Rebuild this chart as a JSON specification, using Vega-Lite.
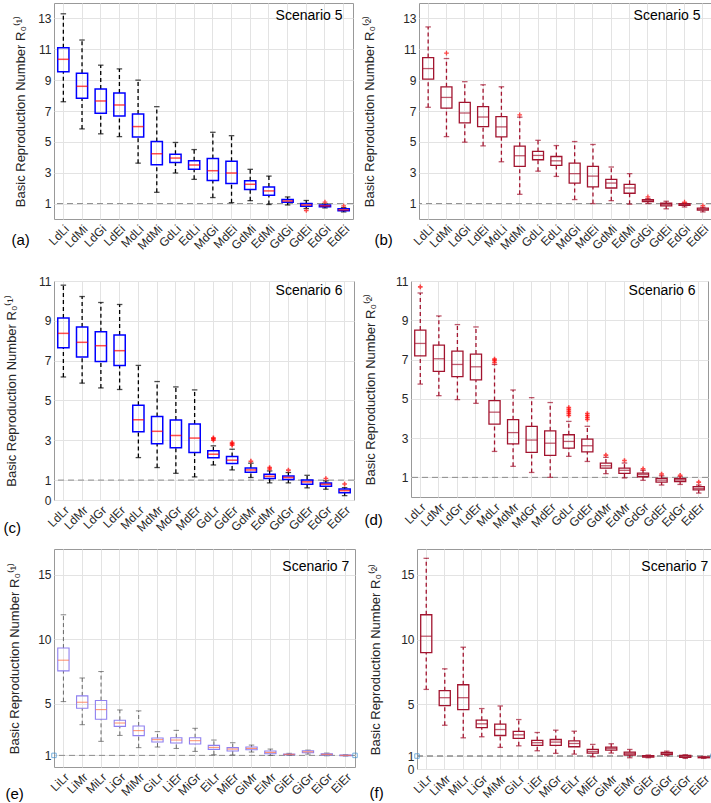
{
"$schema": "https://vega.github.io/schema/vega-lite/v6.json",
"padding": {"left": 2, "top": 2, "right": 2, "bottom": 2},
"config": {
 "font": "Liberation Sans",
 "view": {"stroke": "#999999", "strokeWidth": 1},
 "title": {"fontSize": 14, "fontWeight": "normal", "color": "#000000", "anchor": "end"},
 "axis": {"labelFontSize": 12, "labelColor": "#262626", "titleFontSize": 13, "titleFontWeight": "normal", "titleColor": "#262626", "gridColor": "#e3e3e3", "domain": false, "ticks": false, "tickSize": 0, "grid": true},
 "axisX": {"labelAngle": -45, "labelPadding": 4, "titleFontSize": 15, "titleAlign": "left", "titleBaseline": "middle", "titleColor": "#000000"},
 "axisY": {"labelPadding": 3, "titlePadding": 5, "labelOverlap": false, "tickCount": 30, "format": "d"}
},
"datasets": {
 "a": [
  {"i":1,"lo":7.6,"q1":9.54,"m":10.35,"q3":11.1,"hi":13.3},
  {"i":2,"lo":5.84,"q1":7.82,"m":8.6,"q3":9.45,"hi":11.6},
  {"i":3,"lo":5.52,"q1":6.85,"m":7.65,"q3":8.42,"hi":9.97},
  {"i":4,"lo":5.34,"q1":6.68,"m":7.39,"q3":8.16,"hi":9.73},
  {"i":5,"lo":3.62,"q1":5.32,"m":5.99,"q3":6.8,"hi":9.0},
  {"i":6,"lo":1.73,"q1":3.52,"m":4.23,"q3":5.02,"hi":7.28},
  {"i":7,"lo":2.98,"q1":3.67,"m":3.95,"q3":4.2,"hi":4.96},
  {"i":8,"lo":2.57,"q1":3.22,"m":3.5,"q3":3.78,"hi":4.5},
  {"i":9,"lo":1.39,"q1":2.5,"m":3.13,"q3":3.92,"hi":5.62},
  {"i":10,"lo":1.06,"q1":2.3,"m":2.98,"q3":3.75,"hi":5.4},
  {"i":11,"lo":1.19,"q1":1.92,"m":2.25,"q3":2.48,"hi":3.22},
  {"i":12,"lo":0.94,"q1":1.54,"m":1.82,"q3":2.08,"hi":2.78},
  {"i":13,"lo":0.91,"q1":1.09,"m":1.17,"q3":1.26,"hi":1.43},
  {"i":14,"lo":0.68,"q1":0.83,"m":0.91,"q3":1.0,"hi":1.2},
  {"i":15,"lo":0.72,"q1":0.79,"m":0.85,"q3":0.91,"hi":0.98},
  {"i":16,"lo":0.46,"q1":0.53,"m":0.59,"q3":0.66,"hi":0.74}
 ],
 "ao": [{"i":14,"v":0.55},{"i":15,"v":1.1},{"i":16,"v":0.85}],
 "b": [
  {"i":1,"lo":7.24,"q1":9.06,"m":9.75,"q3":10.46,"hi":12.45},
  {"i":2,"lo":5.34,"q1":7.19,"m":7.88,"q3":8.57,"hi":10.4},
  {"i":3,"lo":4.98,"q1":6.23,"m":6.87,"q3":7.56,"hi":8.9},
  {"i":4,"lo":4.74,"q1":5.99,"m":6.61,"q3":7.28,"hi":8.7},
  {"i":5,"lo":3.71,"q1":5.32,"m":5.97,"q3":6.63,"hi":8.57},
  {"i":6,"lo":1.6,"q1":3.41,"m":4.1,"q3":4.72,"hi":6.6},
  {"i":7,"lo":3.1,"q1":3.84,"m":4.12,"q3":4.38,"hi":5.1},
  {"i":8,"lo":2.76,"q1":3.47,"m":3.77,"q3":4.05,"hi":4.76},
  {"i":9,"lo":1.26,"q1":2.33,"m":2.94,"q3":3.62,"hi":5.02},
  {"i":10,"lo":1.0,"q1":2.08,"m":2.78,"q3":3.41,"hi":4.83},
  {"i":11,"lo":1.19,"q1":2.01,"m":2.33,"q3":2.57,"hi":3.37},
  {"i":12,"lo":0.96,"q1":1.67,"m":2.01,"q3":2.25,"hi":2.94},
  {"i":13,"lo":1.0,"q1":1.13,"m":1.19,"q3":1.26,"hi":1.32},
  {"i":14,"lo":0.66,"q1":0.85,"m":0.94,"q3":1.02,"hi":1.15},
  {"i":15,"lo":0.78,"q1":0.89,"m":0.96,"q3":1.0,"hi":1.04},
  {"i":16,"lo":0.46,"q1":0.57,"m":0.63,"q3":0.7,"hi":0.76}
 ],
 "bo": [{"i":2,"v":10.75},{"i":6,"v":6.75},{"i":13,"v":1.43},{"i":15,"v":1.1},{"i":16,"v":0.87}],
 "c": [
  {"i":1,"lo":6.18,"q1":7.65,"m":8.37,"q3":9.14,"hi":10.79},
  {"i":2,"lo":5.87,"q1":7.18,"m":7.92,"q3":8.69,"hi":10.22},
  {"i":3,"lo":5.63,"q1":6.96,"m":7.75,"q3":8.45,"hi":9.92},
  {"i":4,"lo":5.55,"q1":6.76,"m":7.5,"q3":8.29,"hi":9.82},
  {"i":5,"lo":2.13,"q1":3.43,"m":4.03,"q3":4.76,"hi":6.76},
  {"i":6,"lo":1.63,"q1":2.82,"m":3.45,"q3":4.2,"hi":5.95},
  {"i":7,"lo":1.34,"q1":2.62,"m":3.24,"q3":4.02,"hi":5.68},
  {"i":8,"lo":1.16,"q1":2.39,"m":3.11,"q3":3.82,"hi":5.53},
  {"i":9,"lo":1.76,"q1":2.12,"m":2.3,"q3":2.47,"hi":2.72},
  {"i":10,"lo":1.51,"q1":1.83,"m":2.0,"q3":2.18,"hi":2.55},
  {"i":11,"lo":1.13,"q1":1.39,"m":1.51,"q3":1.61,"hi":1.85},
  {"i":12,"lo":0.86,"q1":1.08,"m":1.19,"q3":1.29,"hi":1.46},
  {"i":13,"lo":0.86,"q1":1.03,"m":1.13,"q3":1.21,"hi":1.38},
  {"i":14,"lo":0.61,"q1":0.79,"m":0.91,"q3":1.01,"hi":1.24},
  {"i":15,"lo":0.54,"q1":0.69,"m":0.79,"q3":0.86,"hi":0.96},
  {"i":16,"lo":0.22,"q1":0.37,"m":0.47,"q3":0.55,"hi":0.62}
 ],
 "co": [{"i":9,"v":3.0},{"i":9,"v":3.07},{"i":9,"v":3.12},{"i":10,"v":2.75},{"i":10,"v":2.82},{"i":10,"v":2.88},{"i":11,"v":1.95},{"i":12,"v":1.56},{"i":12,"v":1.63},{"i":13,"v":1.5},{"i":15,"v":1.08},{"i":16,"v":0.8}],
 "d": [
  {"i":1,"lo":5.75,"q1":7.19,"m":7.82,"q3":8.5,"hi":10.39},
  {"i":2,"lo":5.16,"q1":6.4,"m":7.04,"q3":7.73,"hi":9.22},
  {"i":3,"lo":4.96,"q1":6.13,"m":6.75,"q3":7.43,"hi":8.78},
  {"i":4,"lo":4.77,"q1":5.96,"m":6.63,"q3":7.28,"hi":8.66},
  {"i":5,"lo":2.32,"q1":3.71,"m":4.32,"q3":4.91,"hi":6.75},
  {"i":6,"lo":1.56,"q1":2.71,"m":3.28,"q3":3.94,"hi":5.45},
  {"i":7,"lo":1.25,"q1":2.27,"m":2.9,"q3":3.6,"hi":5.06},
  {"i":8,"lo":1.0,"q1":2.12,"m":2.74,"q3":3.37,"hi":4.81},
  {"i":9,"lo":2.07,"q1":2.49,"m":2.83,"q3":3.17,"hi":3.85},
  {"i":10,"lo":1.81,"q1":2.3,"m":2.61,"q3":2.95,"hi":3.6},
  {"i":11,"lo":1.19,"q1":1.47,"m":1.59,"q3":1.73,"hi":2.02},
  {"i":12,"lo":0.97,"q1":1.2,"m":1.36,"q3":1.47,"hi":1.73},
  {"i":13,"lo":0.85,"q1":1.03,"m":1.14,"q3":1.22,"hi":1.36},
  {"i":14,"lo":0.61,"q1":0.76,"m":0.86,"q3":0.95,"hi":1.08},
  {"i":15,"lo":0.64,"q1":0.78,"m":0.86,"q3":0.93,"hi":1.03},
  {"i":16,"lo":0.2,"q1":0.36,"m":0.44,"q3":0.53,"hi":0.61}
 ],
 "do": [{"i":1,"v":10.7},{"i":5,"v":6.85},{"i":5,"v":6.95},{"i":5,"v":7.02},{"i":9,"v":4.15},{"i":9,"v":4.25},{"i":9,"v":4.35},{"i":9,"v":4.45},{"i":9,"v":4.55},{"i":10,"v":3.95},{"i":10,"v":4.05},{"i":10,"v":4.15},{"i":10,"v":4.25},{"i":11,"v":2.13},{"i":12,"v":1.86},{"i":13,"v":1.44},{"i":14,"v":1.17},{"i":15,"v":1.1},{"i":16,"v":0.76}],
 "e": [
  {"i":1,"lo":5.17,"q1":7.55,"m":8.38,"q3":9.32,"hi":11.9},
  {"i":2,"lo":3.38,"q1":4.65,"m":5.12,"q3":5.61,"hi":7.0},
  {"i":3,"lo":2.09,"q1":3.8,"m":4.55,"q3":5.25,"hi":7.5},
  {"i":4,"lo":2.55,"q1":3.25,"m":3.51,"q3":3.72,"hi":4.52},
  {"i":5,"lo":1.6,"q1":2.53,"m":2.92,"q3":3.28,"hi":4.45},
  {"i":6,"lo":1.65,"q1":2.04,"m":2.22,"q3":2.35,"hi":2.84},
  {"i":7,"lo":1.54,"q1":1.96,"m":2.19,"q3":2.37,"hi":2.94},
  {"i":8,"lo":1.31,"q1":1.88,"m":2.14,"q3":2.37,"hi":3.1},
  {"i":9,"lo":1.05,"q1":1.47,"m":1.62,"q3":1.78,"hi":2.19},
  {"i":10,"lo":1.03,"q1":1.34,"m":1.49,"q3":1.6,"hi":1.98},
  {"i":11,"lo":1.26,"q1":1.44,"m":1.54,"q3":1.65,"hi":1.8},
  {"i":12,"lo":1.0,"q1":1.13,"m":1.23,"q3":1.34,"hi":1.49},
  {"i":13,"lo":1.0,"q1":1.05,"m":1.08,"q3":1.1,"hi":1.16},
  {"i":14,"lo":1.1,"q1":1.21,"m":1.28,"q3":1.36,"hi":1.41},
  {"i":15,"lo":0.97,"q1":1.03,"m":1.08,"q3":1.13,"hi":1.18},
  {"i":16,"lo":0.95,"q1":0.97,"m":1.0,"q3":1.03,"hi":1.05}
 ],
 "f": [
  {"i":1,"lo":6.15,"q1":9.0,"m":10.26,"q3":11.92,"hi":16.28},
  {"i":2,"lo":3.38,"q1":4.9,"m":5.51,"q3":6.05,"hi":7.74},
  {"i":3,"lo":2.41,"q1":4.59,"m":5.51,"q3":6.51,"hi":9.41},
  {"i":4,"lo":2.49,"q1":3.2,"m":3.49,"q3":3.77,"hi":4.67},
  {"i":5,"lo":1.67,"q1":2.59,"m":3.05,"q3":3.46,"hi":4.87},
  {"i":6,"lo":1.79,"q1":2.36,"m":2.64,"q3":2.9,"hi":3.82},
  {"i":7,"lo":1.41,"q1":1.82,"m":2.03,"q3":2.21,"hi":2.82},
  {"i":8,"lo":1.21,"q1":1.82,"m":2.08,"q3":2.28,"hi":3.0},
  {"i":9,"lo":1.15,"q1":1.72,"m":1.97,"q3":2.18,"hi":2.92},
  {"i":10,"lo":0.95,"q1":1.23,"m":1.36,"q3":1.51,"hi":1.9},
  {"i":11,"lo":1.23,"q1":1.46,"m":1.59,"q3":1.69,"hi":1.95},
  {"i":12,"lo":0.87,"q1":1.08,"m":1.21,"q3":1.31,"hi":1.51},
  {"i":13,"lo":0.87,"q1":0.92,"m":0.97,"q3":1.03,"hi":1.08},
  {"i":14,"lo":1.03,"q1":1.13,"m":1.21,"q3":1.28,"hi":1.38},
  {"i":15,"lo":0.82,"q1":0.9,"m":0.97,"q3":1.05,"hi":1.1},
  {"i":16,"lo":0.82,"q1":0.87,"m":0.9,"q3":0.92,"hi":0.97}
 ],
 "one": [{}],
 "edge": [{"e":0},{"e":1}]
},
"spacing": 12,
"vconcat": [
 {"spacing": 21, "vconcat": [
  {"spacing": 8, "hconcat": [
   {"width": 299, "height": 216,
    "title": {"text": "Scenario 5", "offset": -20, "dx": -11},
    "layer": [
     {"data": {"name": "one"}, "mark": {"type": "rule", "strokeDash": [6,4], "color": "#8c8c8c"}, "encoding": {"y": {"datum": 1, "type": "quantitative", "title": "Basic Reproduction Number R₀⁽¹⁾"}}},
     {"data": {"name": "a"}, "mark": {"type": "rule", "strokeDash": [4,3], "color": "#000000", "strokeWidth": 1.3}, "encoding": {"x": {"field": "i", "type": "ordinal", "title": "(a)"}, "y": {"field": "q3", "type": "quantitative", "title": "Basic Reproduction Number R₀⁽¹⁾"}, "y2": {"field": "hi"}}},
     {"data": {"name": "a"}, "mark": {"type": "rule", "strokeDash": [4,3], "color": "#000000", "strokeWidth": 1.3}, "encoding": {"x": {"field": "i", "type": "ordinal", "title": "(a)"}, "y": {"field": "lo", "type": "quantitative", "title": "Basic Reproduction Number R₀⁽¹⁾"}, "y2": {"field": "q1"}}},
     {"data": {"name": "a"}, "mark": {"type": "tick", "color": "#000000", "size": 5.5, "thickness": 1.3}, "encoding": {"x": {"field": "i", "type": "ordinal", "title": "(a)"}, "y": {"field": "hi", "type": "quantitative", "title": "Basic Reproduction Number R₀⁽¹⁾"}}},
     {"data": {"name": "a"}, "mark": {"type": "tick", "color": "#000000", "size": 5.5, "thickness": 1.3}, "encoding": {"x": {"field": "i", "type": "ordinal", "title": "(a)"}, "y": {"field": "lo", "type": "quantitative", "title": "Basic Reproduction Number R₀⁽¹⁾"}}},
     {"data": {"name": "a"}, "mark": {"type": "bar", "width": {"band": 0.6}, "fillOpacity": 0, "stroke": "#0000ff", "strokeWidth": 1.5},
      "encoding": {
       "x": {"field": "i", "type": "ordinal", "title": "(a)", "scale": {"paddingInner": 0, "paddingOuter": 0}, "axis": {"labelExpr": "['LdLi','LdMi','LdGi','LdEi','MdLi','MdMi','GdLi','EdLi','MdGi','MdEi','GdMi','EdMi','GdGi','GdEi','EdGi','EdEi'][datum.value-1]", "titleX": -43, "titleY": 20}},
       "y": {"field": "q1", "type": "quantitative", "title": "Basic Reproduction Number R₀⁽¹⁾", "scale": {"domain": [0,14], "nice": false, "zero": false}, "axis": {"values": [1,3,5,7,9,11,13], "format": "d", "tickCount": 30, "labelOverlap": false, "minExtent": 22, "maxExtent": 22}},
       "y2": {"field": "q3"}}},
     {"data": {"name": "a"}, "mark": {"type": "tick", "color": "#ff0000", "size": 11, "thickness": 1.5}, "encoding": {"x": {"field": "i", "type": "ordinal", "title": "(a)"}, "y": {"field": "m", "type": "quantitative", "title": "Basic Reproduction Number R₀⁽¹⁾"}}},
     {"data": {"name": "ao"}, "mark": {"type": "point", "shape": "M-1,0H1M0,-1V1", "filled": false, "color": "#ff0000", "size": 22, "strokeWidth": 1.3}, "encoding": {"x": {"field": "i", "type": "ordinal", "title": "(a)"}, "y": {"field": "v", "type": "quantitative", "title": "Basic Reproduction Number R₀⁽¹⁾"}}}
    ]},
   {"width": 293, "height": 216,
    "title": {"text": "Scenario 5", "offset": -20, "dx": -12},
    "layer": [
     {"data": {"name": "one"}, "mark": {"type": "rule", "strokeDash": [6,4], "color": "#8c8c8c"}, "encoding": {"y": {"datum": 1, "type": "quantitative", "title": "Basic Reproduction Number R₀⁽²⁾"}}},
     {"data": {"name": "b"}, "mark": {"type": "rule", "strokeDash": [4,3], "color": "#a2142f", "strokeWidth": 1.3}, "encoding": {"x": {"field": "i", "type": "ordinal", "title": "(b)"}, "y": {"field": "q3", "type": "quantitative", "title": "Basic Reproduction Number R₀⁽²⁾"}, "y2": {"field": "hi"}}},
     {"data": {"name": "b"}, "mark": {"type": "rule", "strokeDash": [4,3], "color": "#a2142f", "strokeWidth": 1.3}, "encoding": {"x": {"field": "i", "type": "ordinal", "title": "(b)"}, "y": {"field": "lo", "type": "quantitative", "title": "Basic Reproduction Number R₀⁽²⁾"}, "y2": {"field": "q1"}}},
     {"data": {"name": "b"}, "mark": {"type": "tick", "color": "#a2142f", "size": 5.5, "thickness": 1.3}, "encoding": {"x": {"field": "i", "type": "ordinal", "title": "(b)"}, "y": {"field": "hi", "type": "quantitative", "title": "Basic Reproduction Number R₀⁽²⁾"}}},
     {"data": {"name": "b"}, "mark": {"type": "tick", "color": "#a2142f", "size": 5.5, "thickness": 1.3}, "encoding": {"x": {"field": "i", "type": "ordinal", "title": "(b)"}, "y": {"field": "lo", "type": "quantitative", "title": "Basic Reproduction Number R₀⁽²⁾"}}},
     {"data": {"name": "b"}, "mark": {"type": "bar", "width": {"band": 0.6}, "fillOpacity": 0, "stroke": "#a2142f", "strokeWidth": 1.3},
      "encoding": {
       "x": {"field": "i", "type": "ordinal", "title": "(b)", "scale": {"paddingInner": 0, "paddingOuter": 0}, "axis": {"labelExpr": "['LdLi','LdMi','LdGi','LdEi','MdLi','MdMi','GdLi','EdLi','MdGi','MdEi','GdMi','EdMi','GdGi','GdEi','EdGi','EdEi'][datum.value-1]", "titleX": -45, "titleY": 20}},
       "y": {"field": "q1", "type": "quantitative", "title": "Basic Reproduction Number R₀⁽²⁾", "scale": {"domain": [0,14], "nice": false, "zero": false}, "axis": {"values": [1,3,5,7,9,11,13], "format": "d", "tickCount": 30, "labelOverlap": false, "minExtent": 38, "maxExtent": 38}},
       "y2": {"field": "q3"}}},
     {"data": {"name": "b"}, "mark": {"type": "tick", "color": "#a2142f", "size": 11, "thickness": 1.3}, "encoding": {"x": {"field": "i", "type": "ordinal", "title": "(b)"}, "y": {"field": "m", "type": "quantitative", "title": "Basic Reproduction Number R₀⁽²⁾"}}},
     {"data": {"name": "bo"}, "mark": {"type": "point", "shape": "M-1,0H1M0,-1V1", "filled": false, "color": "#ff0000", "size": 22, "strokeWidth": 1.3}, "encoding": {"x": {"field": "i", "type": "ordinal", "title": "(b)"}, "y": {"field": "v", "type": "quantitative", "title": "Basic Reproduction Number R₀⁽²⁾"}}}
    ]}
  ]},
  {"spacing": 8, "hconcat": [
   {"width": 300, "height": 219,
    "title": {"text": "Scenario 6", "offset": -23, "dx": -12},
    "layer": [
     {"data": {"name": "one"}, "mark": {"type": "rule", "strokeDash": [6,4], "color": "#8c8c8c"}, "encoding": {"y": {"datum": 1, "type": "quantitative", "title": "Basic Reproduction Number R₀⁽¹⁾"}}},
     {"data": {"name": "c"}, "mark": {"type": "rule", "strokeDash": [4,3], "color": "#000000", "strokeWidth": 1.3}, "encoding": {"x": {"field": "i", "type": "ordinal", "title": "(c)"}, "y": {"field": "q3", "type": "quantitative", "title": "Basic Reproduction Number R₀⁽¹⁾"}, "y2": {"field": "hi"}}},
     {"data": {"name": "c"}, "mark": {"type": "rule", "strokeDash": [4,3], "color": "#000000", "strokeWidth": 1.3}, "encoding": {"x": {"field": "i", "type": "ordinal", "title": "(c)"}, "y": {"field": "lo", "type": "quantitative", "title": "Basic Reproduction Number R₀⁽¹⁾"}, "y2": {"field": "q1"}}},
     {"data": {"name": "c"}, "mark": {"type": "tick", "color": "#000000", "size": 5.5, "thickness": 1.3}, "encoding": {"x": {"field": "i", "type": "ordinal", "title": "(c)"}, "y": {"field": "hi", "type": "quantitative", "title": "Basic Reproduction Number R₀⁽¹⁾"}}},
     {"data": {"name": "c"}, "mark": {"type": "tick", "color": "#000000", "size": 5.5, "thickness": 1.3}, "encoding": {"x": {"field": "i", "type": "ordinal", "title": "(c)"}, "y": {"field": "lo", "type": "quantitative", "title": "Basic Reproduction Number R₀⁽¹⁾"}}},
     {"data": {"name": "c"}, "mark": {"type": "bar", "width": {"band": 0.6}, "fillOpacity": 0, "stroke": "#0000ff", "strokeWidth": 1.5},
      "encoding": {
       "x": {"field": "i", "type": "ordinal", "title": "(c)", "scale": {"paddingInner": 0, "paddingOuter": 0}, "axis": {"labelExpr": "['LdLr','LdMr','LdGr','LdEr','MdLr','MdMr','MdGr','MdEr','GdLr','GdEr','GdMr','EdMr','GdGr','GdEr','EdGr','EdEr'][datum.value-1]", "titleX": -51, "titleY": 27}},
       "y": {"field": "q1", "type": "quantitative", "title": "Basic Reproduction Number R₀⁽¹⁾", "scale": {"domain": [0,11], "nice": false, "zero": false}, "axis": {"values": [0,1,3,5,7,9,11], "format": "d", "tickCount": 30, "labelOverlap": false, "minExtent": 31, "maxExtent": 31}},
       "y2": {"field": "q3"}}},
     {"data": {"name": "c"}, "mark": {"type": "tick", "color": "#ff0000", "size": 11, "thickness": 1.5}, "encoding": {"x": {"field": "i", "type": "ordinal", "title": "(c)"}, "y": {"field": "m", "type": "quantitative", "title": "Basic Reproduction Number R₀⁽¹⁾"}}},
     {"data": {"name": "co"}, "mark": {"type": "point", "shape": "M-1,0H1M0,-1V1", "filled": false, "color": "#ff0000", "size": 22, "strokeWidth": 1.6}, "encoding": {"x": {"field": "i", "type": "ordinal", "title": "(c)"}, "y": {"field": "v", "type": "quantitative", "title": "Basic Reproduction Number R₀⁽¹⁾"}}}
    ]},
   {"width": 297, "height": 216,
    "title": {"text": "Scenario 6", "offset": -23, "dx": -13},
    "layer": [
     {"data": {"name": "one"}, "mark": {"type": "rule", "strokeDash": [6,4], "color": "#8c8c8c"}, "encoding": {"y": {"datum": 1, "type": "quantitative", "title": "Basic Reproduction Number R₀⁽²⁾"}}},
     {"data": {"name": "d"}, "mark": {"type": "rule", "strokeDash": [4,3], "color": "#a2142f", "strokeWidth": 1.3}, "encoding": {"x": {"field": "i", "type": "ordinal", "title": "(d)"}, "y": {"field": "q3", "type": "quantitative", "title": "Basic Reproduction Number R₀⁽²⁾"}, "y2": {"field": "hi"}}},
     {"data": {"name": "d"}, "mark": {"type": "rule", "strokeDash": [4,3], "color": "#a2142f", "strokeWidth": 1.3}, "encoding": {"x": {"field": "i", "type": "ordinal", "title": "(d)"}, "y": {"field": "lo", "type": "quantitative", "title": "Basic Reproduction Number R₀⁽²⁾"}, "y2": {"field": "q1"}}},
     {"data": {"name": "d"}, "mark": {"type": "tick", "color": "#a2142f", "size": 5.5, "thickness": 1.3}, "encoding": {"x": {"field": "i", "type": "ordinal", "title": "(d)"}, "y": {"field": "hi", "type": "quantitative", "title": "Basic Reproduction Number R₀⁽²⁾"}}},
     {"data": {"name": "d"}, "mark": {"type": "tick", "color": "#a2142f", "size": 5.5, "thickness": 1.3}, "encoding": {"x": {"field": "i", "type": "ordinal", "title": "(d)"}, "y": {"field": "lo", "type": "quantitative", "title": "Basic Reproduction Number R₀⁽²⁾"}}},
     {"data": {"name": "d"}, "mark": {"type": "bar", "width": {"band": 0.6}, "fillOpacity": 0, "stroke": "#a2142f", "strokeWidth": 1.3},
      "encoding": {
       "x": {"field": "i", "type": "ordinal", "title": "(d)", "scale": {"paddingInner": 0, "paddingOuter": 0}, "axis": {"labelExpr": "['LdLr','LdMr','LdGr','LdEr','MdLr','MdMr','MdGr','MdEr','GdLr','GdEr','GdMr','EdMr','GdGr','GdEr','EdGr','EdEr'][datum.value-1]", "titleX": -47, "titleY": 22}},
       "y": {"field": "q1", "type": "quantitative", "title": "Basic Reproduction Number R₀⁽²⁾", "scale": {"domain": [0,11], "nice": false, "zero": false}, "axis": {"values": [1,3,5,7,9,11], "format": "d", "tickCount": 30, "labelOverlap": false, "minExtent": 29, "maxExtent": 29}},
       "y2": {"field": "q3"}}},
     {"data": {"name": "d"}, "mark": {"type": "tick", "color": "#a2142f", "size": 11, "thickness": 1.3}, "encoding": {"x": {"field": "i", "type": "ordinal", "title": "(d)"}, "y": {"field": "m", "type": "quantitative", "title": "Basic Reproduction Number R₀⁽²⁾"}}},
     {"data": {"name": "do"}, "mark": {"type": "point", "shape": "M-1,0H1M0,-1V1", "filled": false, "color": "#ff0000", "size": 22, "strokeWidth": 1.6}, "encoding": {"x": {"field": "i", "type": "ordinal", "title": "(d)"}, "y": {"field": "v", "type": "quantitative", "title": "Basic Reproduction Number R₀⁽²⁾"}}}
    ]}
  ]}
 ]},
 {"spacing": 8, "hconcat": [
  {"width": 301, "height": 218,
   "title": {"text": "Scenario 7", "offset": -25, "dx": -10},
   "resolve": {"scale": {"x": "independent"}},
   "layer": [
    {"layer": [
     {"data": {"name": "one"}, "mark": {"type": "rule", "strokeDash": [6,4], "color": "#8c8c8c"}, "encoding": {"y": {"datum": 1, "type": "quantitative", "title": "Basic Reproduction Number R₀⁽¹⁾"}}},
     {"data": {"name": "e"}, "mark": {"type": "rule", "strokeDash": [4,3], "color": "#666666", "strokeWidth": 1}, "encoding": {"x": {"field": "i", "type": "ordinal", "title": "(e)"}, "y": {"field": "q3", "type": "quantitative", "title": "Basic Reproduction Number R₀⁽¹⁾"}, "y2": {"field": "hi"}}},
     {"data": {"name": "e"}, "mark": {"type": "rule", "strokeDash": [4,3], "color": "#666666", "strokeWidth": 1}, "encoding": {"x": {"field": "i", "type": "ordinal", "title": "(e)"}, "y": {"field": "lo", "type": "quantitative", "title": "Basic Reproduction Number R₀⁽¹⁾"}, "y2": {"field": "q1"}}},
     {"data": {"name": "e"}, "mark": {"type": "tick", "color": "#555555", "size": 5.5, "thickness": 1}, "encoding": {"x": {"field": "i", "type": "ordinal", "title": "(e)"}, "y": {"field": "hi", "type": "quantitative", "title": "Basic Reproduction Number R₀⁽¹⁾"}}},
     {"data": {"name": "e"}, "mark": {"type": "tick", "color": "#555555", "size": 5.5, "thickness": 1}, "encoding": {"x": {"field": "i", "type": "ordinal", "title": "(e)"}, "y": {"field": "lo", "type": "quantitative", "title": "Basic Reproduction Number R₀⁽¹⁾"}}},
     {"data": {"name": "e"}, "mark": {"type": "bar", "width": {"band": 0.6}, "fillOpacity": 0, "stroke": "#8f80f0", "strokeWidth": 1.1},
      "encoding": {
       "x": {"field": "i", "type": "ordinal", "title": "(e)", "scale": {"paddingInner": 0, "paddingOuter": 0}, "axis": {"labelExpr": "['LiLr','LiMr','MiLr','LiGr','MiMr','GiLr','LiEr','MiGr','EiLr','MiEr','GiMr','EiMr','GiEr','GiGr','EiGr','EiEr'][datum.value-1]", "titleX": -49, "titleY": 26}},
       "y": {"field": "q1", "type": "quantitative", "title": "Basic Reproduction Number R₀⁽¹⁾", "scale": {"domain": [0.1,17], "nice": false, "zero": false}, "axis": {"values": [1,5,10,15], "format": "d", "tickCount": 30, "labelOverlap": false, "minExtent": 28, "maxExtent": 28}},
       "y2": {"field": "q3"}}},
     {"data": {"name": "e"}, "mark": {"type": "tick", "color": "#ff6a3d", "size": 11, "thickness": 1.1}, "encoding": {"x": {"field": "i", "type": "ordinal", "title": "(e)"}, "y": {"field": "m", "type": "quantitative", "title": "Basic Reproduction Number R₀⁽¹⁾"}}}
    ]},
    {"data": {"name": "edge"}, "mark": {"type": "point", "shape": "square", "filled": false, "color": "#3d8fd1", "size": 20, "strokeWidth": 1}, "encoding": {"x": {"field": "e", "type": "quantitative", "scale": {"domain": [0,1], "nice": false, "zero": false}, "axis": null}, "y": {"datum": 1, "type": "quantitative", "title": "Basic Reproduction Number R₀⁽¹⁾"}}}
   ]},
  {"width": 296, "height": 220,
   "title": {"text": "Scenario 7", "offset": -25, "dx": -9},
   "resolve": {"scale": {"x": "independent"}},
   "layer": [
    {"layer": [
     {"data": {"name": "one"}, "mark": {"type": "rule", "strokeDash": [6,4], "color": "#8c8c8c", "strokeWidth": 1.5}, "encoding": {"y": {"datum": 1, "type": "quantitative", "title": "Basic Reproduction Number R₀⁽²⁾"}}},
     {"data": {"name": "f"}, "mark": {"type": "rule", "strokeDash": [4,3], "color": "#a2142f", "strokeWidth": 1.3}, "encoding": {"x": {"field": "i", "type": "ordinal", "title": "(f)"}, "y": {"field": "q3", "type": "quantitative", "title": "Basic Reproduction Number R₀⁽²⁾"}, "y2": {"field": "hi"}}},
     {"data": {"name": "f"}, "mark": {"type": "rule", "strokeDash": [4,3], "color": "#a2142f", "strokeWidth": 1.3}, "encoding": {"x": {"field": "i", "type": "ordinal", "title": "(f)"}, "y": {"field": "lo", "type": "quantitative", "title": "Basic Reproduction Number R₀⁽²⁾"}, "y2": {"field": "q1"}}},
     {"data": {"name": "f"}, "mark": {"type": "tick", "color": "#a2142f", "size": 5.5, "thickness": 1.3}, "encoding": {"x": {"field": "i", "type": "ordinal", "title": "(f)"}, "y": {"field": "hi", "type": "quantitative", "title": "Basic Reproduction Number R₀⁽²⁾"}}},
     {"data": {"name": "f"}, "mark": {"type": "tick", "color": "#a2142f", "size": 5.5, "thickness": 1.3}, "encoding": {"x": {"field": "i", "type": "ordinal", "title": "(f)"}, "y": {"field": "lo", "type": "quantitative", "title": "Basic Reproduction Number R₀⁽²⁾"}}},
     {"data": {"name": "f"}, "mark": {"type": "bar", "width": {"band": 0.6}, "fillOpacity": 0, "stroke": "#a2142f", "strokeWidth": 1.3},
      "encoding": {
       "x": {"field": "i", "type": "ordinal", "title": "(f)", "scale": {"paddingInner": 0, "paddingOuter": 0}, "axis": {"labelExpr": "['LiLr','LiMr','MiLr','LiGr','MiMr','GiLr','LiEr','MiGr','EiLr','MiEr','GiMr','EiMr','GiEr','GiGr','EiGr','EiEr'][datum.value-1]", "titleX": -48, "titleY": 23}},
       "y": {"field": "q1", "type": "quantitative", "title": "Basic Reproduction Number R₀⁽²⁾", "scale": {"domain": [0,17], "nice": false, "zero": false}, "axis": {"values": [0,1,5,10,15], "format": "d", "tickCount": 30, "labelOverlap": false, "minExtent": 30, "maxExtent": 30}},
       "y2": {"field": "q3"}}},
     {"data": {"name": "f"}, "mark": {"type": "tick", "color": "#a2142f", "size": 11, "thickness": 1.3}, "encoding": {"x": {"field": "i", "type": "ordinal", "title": "(f)"}, "y": {"field": "m", "type": "quantitative", "title": "Basic Reproduction Number R₀⁽²⁾"}}}
    ]},
    {"data": {"name": "edge"}, "mark": {"type": "point", "shape": "square", "filled": false, "color": "#3d8fd1", "size": 20, "strokeWidth": 1}, "encoding": {"x": {"field": "e", "type": "quantitative", "scale": {"domain": [0,1], "nice": false, "zero": false}, "axis": null}, "y": {"datum": 1, "type": "quantitative", "title": "Basic Reproduction Number R₀⁽²⁾"}}}
   ]}
 ]}
]
}
